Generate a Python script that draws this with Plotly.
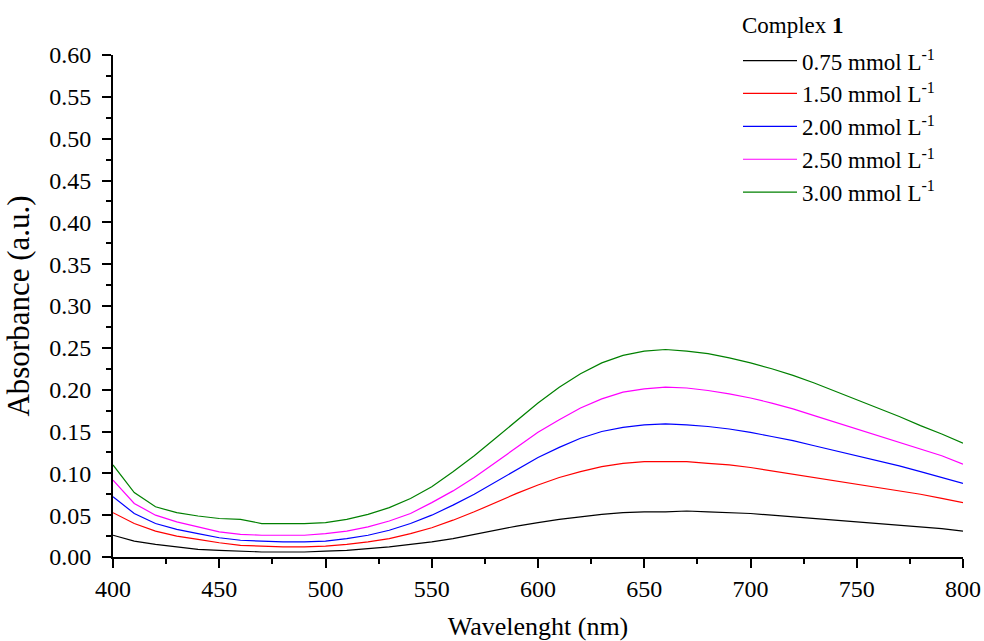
import plotly.graph_objects as go

wavelength = list(range(400, 801, 10))

abs_075 = [0.026, 0.019, 0.015, 0.012, 0.009, 0.008, 0.007, 0.006, 0.006, 0.006,
           0.007, 0.008, 0.010, 0.012, 0.015, 0.018, 0.022, 0.027, 0.032, 0.037,
           0.041, 0.045, 0.048, 0.051, 0.053, 0.054, 0.054, 0.055, 0.054, 0.053,
           0.052, 0.050, 0.048, 0.046, 0.044, 0.042, 0.040, 0.038, 0.036, 0.034, 0.031]
abs_150 = [0.053, 0.040, 0.031, 0.025, 0.021, 0.017, 0.014, 0.013, 0.012, 0.012,
           0.013, 0.015, 0.018, 0.022, 0.028, 0.035, 0.044, 0.054, 0.065, 0.076,
           0.086, 0.095, 0.102, 0.108, 0.112, 0.114, 0.114, 0.114, 0.112, 0.110,
           0.107, 0.103, 0.099, 0.095, 0.091, 0.087, 0.083, 0.079, 0.075, 0.070, 0.065]
abs_200 = [0.072, 0.052, 0.040, 0.033, 0.028, 0.023, 0.020, 0.019, 0.018, 0.018,
           0.019, 0.022, 0.026, 0.032, 0.040, 0.050, 0.062, 0.075, 0.090, 0.105,
           0.119, 0.131, 0.142, 0.150, 0.155, 0.158, 0.159, 0.158, 0.156, 0.153,
           0.149, 0.144, 0.139, 0.133, 0.127, 0.121, 0.115, 0.109, 0.102, 0.095, 0.088]
abs_250 = [0.092, 0.064, 0.050, 0.042, 0.036, 0.030, 0.027, 0.026, 0.026, 0.026,
           0.028, 0.031, 0.036, 0.043, 0.052, 0.065, 0.079, 0.095, 0.113, 0.131,
           0.149, 0.164, 0.178, 0.189, 0.197, 0.201, 0.203, 0.202, 0.199, 0.195,
           0.190, 0.184, 0.177, 0.169, 0.161, 0.153, 0.145, 0.137, 0.129, 0.121, 0.111]
abs_300 = [0.110, 0.077, 0.060, 0.053, 0.049, 0.046, 0.045, 0.040, 0.040, 0.040,
           0.041, 0.045, 0.051, 0.059, 0.070, 0.084, 0.102, 0.121, 0.142, 0.163,
           0.184, 0.203, 0.219, 0.232, 0.241, 0.246, 0.248, 0.246, 0.243, 0.238,
           0.232, 0.225, 0.217, 0.208, 0.198, 0.188, 0.178, 0.168, 0.157, 0.147, 0.136]

series_names = ["0.75 mmol L<sup>-1</sup>", "1.50 mmol L<sup>-1</sup>", "2.00 mmol L<sup>-1</sup>",
                "2.50 mmol L<sup>-1</sup>", "3.00 mmol L<sup>-1</sup>"]
series_values = [abs_075, abs_150, abs_200, abs_250, abs_300]
series_colors = ["#000000", "#ff0000", "#0000ff", "#ff00ff", "#008000"]

legend_title = "Complex <b>1</b>"

FONT = "Liberation Serif, Times New Roman, serif"

fig = go.Figure()
for i, (name, vals, col) in enumerate(zip(series_names, series_values, series_colors)):
    fig.add_trace(go.Scatter(x=wavelength, y=vals, mode="lines", name=name,
                             line=dict(color=col, width=1.2)))

axis_common = dict(showline=True, linecolor="black", linewidth=2, ticks="outside",
                   ticklen=9, tickwidth=2, tickcolor="black", showgrid=False,
                   zeroline=False, mirror=False, automargin=False,
                   tickfont=dict(family=FONT, size=24, color="black"))

fig.update_xaxes(range=[400, 800], dtick=50, tick0=400,
                 minor=dict(dtick=25, ticks="outside", ticklen=5, tickwidth=2, tickcolor="black"),
                 title=dict(text="Wavelenght (nm)", font=dict(family=FONT, size=26, color="black"),
                            standoff=16),
                 **axis_common)
fig.update_yaxes(range=[0, 0.60], dtick=0.05, tick0=0, tickformat=".2f",
                 ticklabelstandoff=6,
                 minor=dict(dtick=0.025, ticks="outside", ticklen=5, tickwidth=2, tickcolor="black"),
                 title=dict(text="Absorbance (a.u.)", font=dict(family=FONT, size=31, color="black"),
                            standoff=10),
                 **axis_common)

fig.add_annotation(text=legend_title, xref="paper", yref="paper", x=0.738, y=1.058,
                   xanchor="left", yanchor="middle", showarrow=False,
                   font=dict(family=FONT, size=23, color="black"))

fig.update_layout(
    width=984, height=641,
    margin=dict(l=113, r=21, t=55, b=84, autoexpand=False),
    plot_bgcolor="white", paper_bgcolor="white",
    font=dict(family=FONT, size=23, color="black"),
    showlegend=True,
    legend=dict(xref="container", yref="container", x=0.750, y=0.939,
                xanchor="left", yanchor="top", itemwidth=54,
                bgcolor="rgba(0,0,0,0)", tracegroupgap=0,
                font=dict(family=FONT, size=23, color="black")),
)

fig.write_html("out.html")
